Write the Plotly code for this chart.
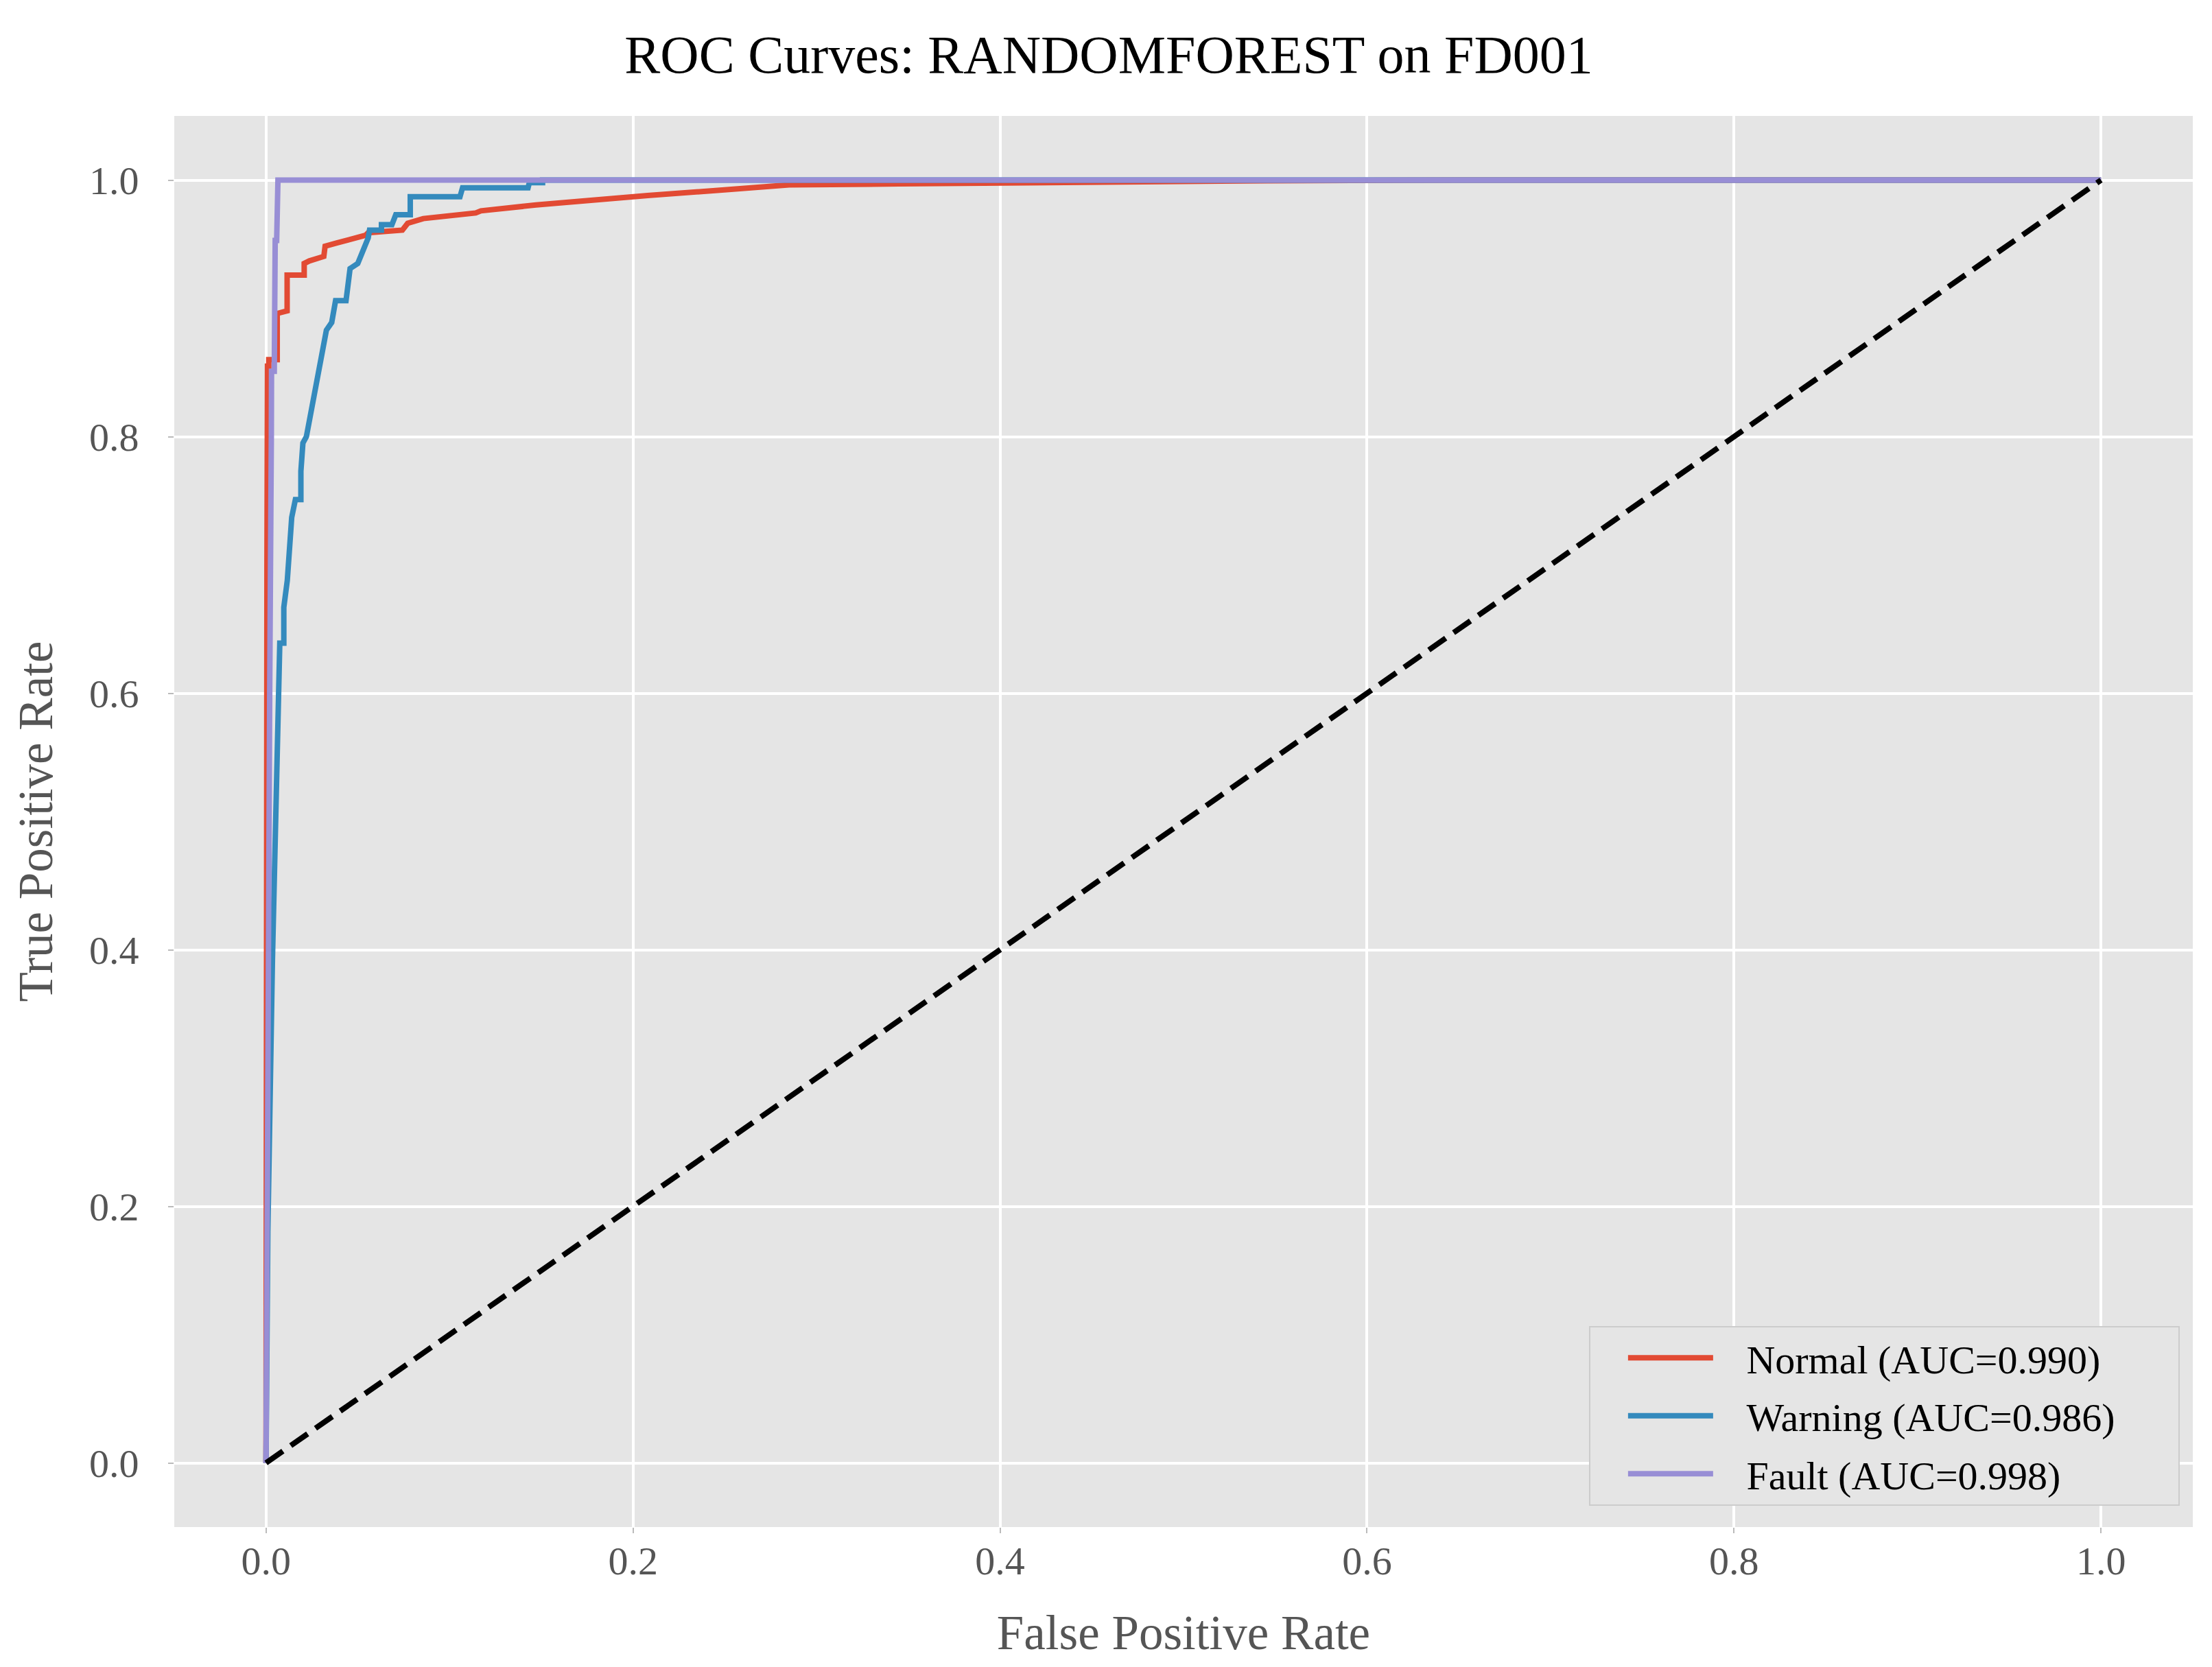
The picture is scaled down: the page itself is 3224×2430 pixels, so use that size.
"""
ROC curves of the random forest model on FD001, drawn with plotly.
"""

import plotly.graph_objects as go

# ROC points (false positive rate, true positive rate)
normal_fpr = [0, 0, 0.0005, 0.0008, 0.0015, 0.0015, 0.0061, 0.0061, 0.0115, 0.0115,
              0.0208, 0.0208, 0.0236, 0.0315, 0.0322, 0.0386, 0.0543, 0.0557, 0.0743,
              0.0772, 0.0857, 0.1143, 0.1171, 0.1471, 0.1925, 0.208, 0.251, 0.271,
              0.285, 0.345, 0.396, 0.459, 0.545, 0.65, 1.0]
normal_tpr = [0, 0.45, 0.70, 0.855, 0.855, 0.860, 0.860, 0.896, 0.898, 0.926,
              0.926, 0.935, 0.937, 0.9405, 0.9485, 0.951, 0.957, 0.959, 0.961,
              0.9663, 0.970, 0.9744, 0.976, 0.9806, 0.9868, 0.988, 0.9925, 0.9952,
              0.9962, 0.997, 0.9978, 0.9988, 0.9995, 1.0, 1.0]

warning_fpr = [0, 0.001, 0.0035, 0.004, 0.0047, 0.0056, 0.0066, 0.0075, 0.0097, 0.0097,
               0.0116, 0.0124, 0.014, 0.016, 0.019, 0.019, 0.0201, 0.022, 0.0243,
               0.0286, 0.0329, 0.0358, 0.0379, 0.0436, 0.0458, 0.050, 0.0557, 0.0564,
               0.0629, 0.0629, 0.0686, 0.0707, 0.0786, 0.0786, 0.1057, 0.1071, 0.1428,
               0.1435, 0.1507, 0.1507, 1.0]
warning_tpr = [0, 0.18, 0.392, 0.422, 0.457, 0.506, 0.552, 0.639, 0.639, 0.667,
               0.688, 0.71, 0.737, 0.751, 0.751, 0.773, 0.795, 0.80, 0.818,
               0.855, 0.883, 0.889, 0.906, 0.906, 0.931, 0.935, 0.955, 0.961,
               0.961, 0.9652, 0.9652, 0.973, 0.973, 0.987, 0.987, 0.994, 0.994,
               0.998, 0.998, 1.0, 1.0]

fault_fpr = [0, 0.001, 0.002, 0.0029, 0.003, 0.0045, 0.005, 0.0058, 0.0065, 1.0]
fault_tpr = [0, 0.4, 0.6, 0.80, 0.851, 0.851, 0.953, 0.953, 1.0, 1.0]

chance_line = [0, 1]

class_names = ["Normal", "Warning", "Fault"]
auc_values = [0.990, 0.986, 0.998]
class_colors = ["#E24A33", "#348ABD", "#988ED5"]

tick_vals = [0, 0.2, 0.4, 0.6, 0.8, 1.0]
tick_text = ["0.0", "0.2", "0.4", "0.6", "0.8", "1.0"]

curves = [(normal_fpr, normal_tpr), (warning_fpr, warning_tpr), (fault_fpr, fault_tpr)]

fig = go.Figure()

#one line per class, each in its own legend group so the rows get a small gap
#(non-breaking spaces pad the label away from the line sample like matplotlib does)
pad = "\u00a0" * 3
for (fpr, tpr), name, auc, color in zip(curves, class_names, auc_values, class_colors):
    fig.add_trace(go.Scatter(
        x=fpr, y=tpr, mode="lines",
        name=f"{pad}{name} (AUC={auc:.3f}){pad}{pad}", legendgroup=name,
        line=dict(color=color, width=8),
    ))

#random guess diagonal
fig.add_trace(go.Scatter(
    x=chance_line, y=chance_line, mode="lines", showlegend=False,
    line=dict(color="black", width=8, dash="30px,14px"),
))

axis_style = dict(
    range=[-0.05, 1.05],
    tickvals=tick_vals,
    ticktext=tick_text,
    showgrid=True, gridcolor="white", gridwidth=4,
    zeroline=False, showline=False,
    ticks="outside", ticklen=8, tickwidth=2, tickcolor="#bbbbbb",
    tickfont=dict(size=58, color="#555555"),
)

# the page body has an 8px margin, so the figure is 8px smaller than the window
fig.update_layout(
    width=3216, height=2422,
    margin=dict(l=246, r=28, t=161, b=204),
    paper_bgcolor="white", plot_bgcolor="#E5E5E5",
    font=dict(family="Liberation Serif, Times New Roman, serif", color="#555555"),
    title=dict(text="ROC Curves: RANDOMFOREST on FD001", x=0.5, xanchor="center",
               y=0.971, yanchor="middle", font=dict(size=78, color="black")),
    xaxis=dict(axis_style, ticklabelstandoff=-10,
               title=dict(text="False Positive Rate", standoff=47,
                          font=dict(size=71, color="#555555"))),
    yaxis=dict(axis_style, ticklabelstandoff=31,
               title=dict(text="True Positive Rate", standoff=30,
                          font=dict(size=71, color="#555555"))),
    legend=dict(x=0.9935, y=0.015, xanchor="right", yanchor="bottom",
                bgcolor="#E5E5E5", bordercolor="#cccccc", borderwidth=2,
                font=dict(size=58, color="black"), itemwidth=124,
                indentation=50, tracegroupgap=6),
)

fig.write_html("out.html")
